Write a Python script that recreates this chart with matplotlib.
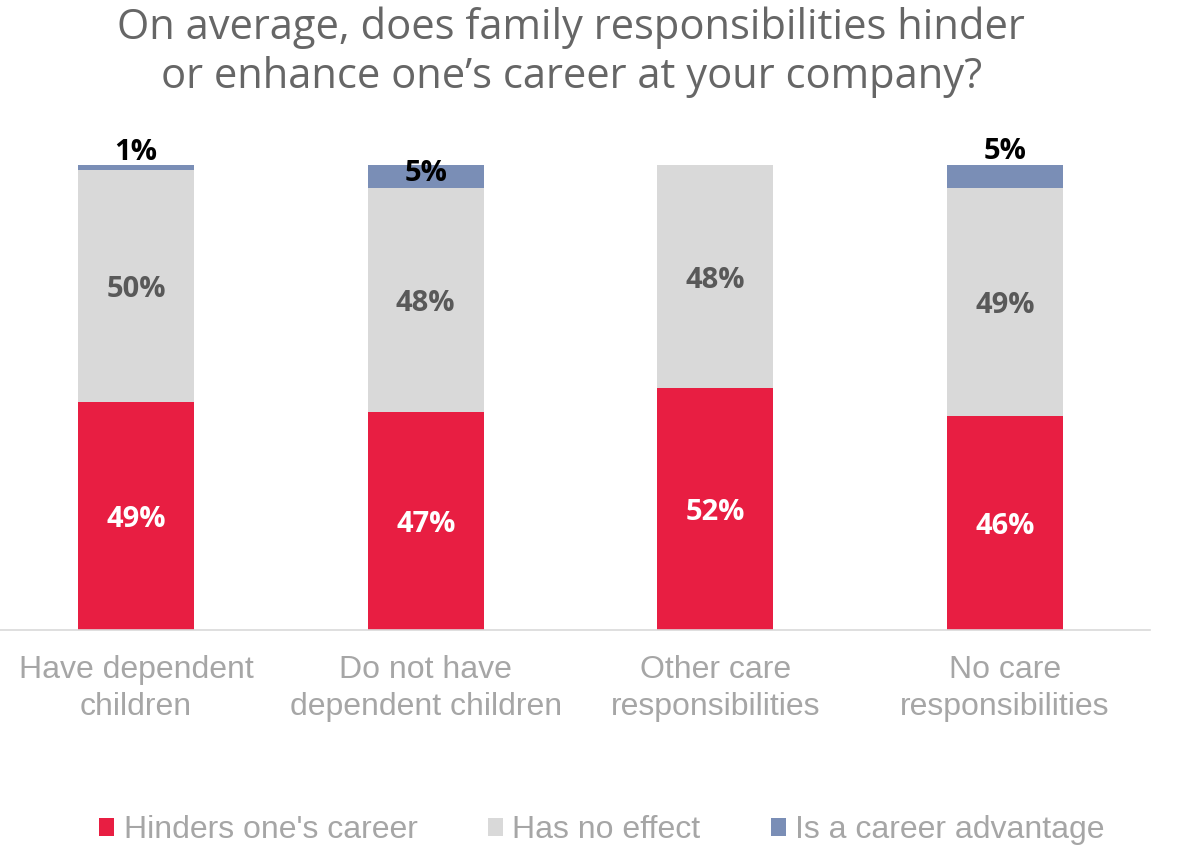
import matplotlib
matplotlib.use("Agg")
import matplotlib.pyplot as plt
import numpy as np

categories = ["Have dependent\nchildren", "Do not have\ndependent children",
              "Other care\nresponsibilities", "No care\nresponsibilities"]
series_names = ["Hinders one's career", "Has no effect", "Is a career advantage"]
hinders = [49, 47, 52, 46]
no_effect = [50, 48, 48, 49]
advantage = [1, 5, 0, 5]

colors = ["#E81E42", "#D9D9D9", "#7A8EB6"]
label_colors = ["white", "#595959", "black"]
# vertical offset (in % units) for advantage labels: above bar or inside
adv_offsets = [2.6, None, None, 3.0]

fig = plt.figure(figsize=(11.78, 8.48), dpi=100)
ax = fig.add_axes([0.0, 0.257, 0.976, 0.5778])

x = np.arange(len(categories))
width = 0.4
data = [hinders, no_effect, advantage]
bottom = np.zeros(len(categories))
for i, (vals, c) in enumerate(zip(data, colors)):
    vals = np.array(vals, dtype=float)
    ax.bar(x, vals, width, bottom=bottom, color=c, label=series_names[i], zorder=2)
    for j, v in enumerate(vals):
        if v <= 0:
            continue
        if i == 2:
            off = adv_offsets[j]
            y = bottom[j] + v + off if off is not None else bottom[j] + v / 2 + 0.6
        else:
            y = bottom[j] + v / 2 - 0.8
        ax.text(x[j], y, f"{int(v)}%", ha="center", va="center",
                color=label_colors[i], fontsize=21, fontweight="bold",
                family="Open Sans")
    bottom += vals

ax.set_xlim(-0.47, 3.5)
ax.set_ylim(0, 100 * 490 / 465)
ax.set_yticks([])
for s in ["top", "right", "left"]:
    ax.spines[s].set_visible(False)
ax.spines["bottom"].set_color("#D9D9D9")
ax.spines["bottom"].set_linewidth(1.2)
ax.set_xticks(x)
ax.set_xticklabels(categories, fontsize=23, color="#A6A6A6", family="Liberation Sans",
                   linespacing=1.3)
ax.tick_params(axis="x", length=0, pad=18)

fig.text(0.485, 0.938, "On average, does family responsibilities hinder\nor enhance one\u2019s career at your company?",
         ha="center", va="center", fontsize=30, color="#666666", family="Open Sans",
         linespacing=1.22)

handles, labels = ax.get_legend_handles_labels()
leg = fig.legend(handles, labels, loc="center", bbox_to_anchor=(0.511, 0.021), ncol=3,
                 frameon=False, handlelength=0.47, handleheight=0.47, handletextpad=0.3,
                 columnspacing=2.2, prop={"family": "Liberation Sans", "size": 23})
for t in leg.get_texts():
    t.set_color("#A6A6A6")

fig.savefig("out.png", dpi=100)
